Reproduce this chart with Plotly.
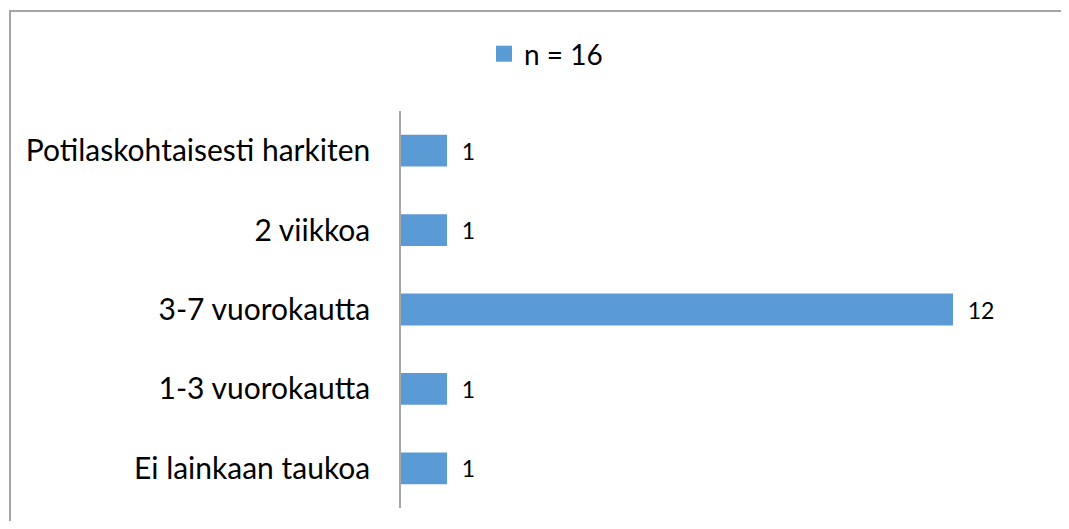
import plotly.graph_objects as go

categories = ["Potilaskohtaisesti harkiten", "2 viikkoa", "3-7 vuorokautta",
              "1-3 vuorokautta", "Ei lainkaan taukoa"]
values = [1, 1, 12, 1, 1]
series_name = "n = 16"
bar_color = "#5B9BD5"

# The page body adds an 8px margin around the figure; keep it from overflowing.
OFF = 8
W, H = 1069 - 2 * OFF, 529 - 2 * OFF
L, T = 401 - OFF, 111 - OFF
plot_right, plot_bottom = 1045 - OFF, 508 - OFF
R, B = W - plot_right, H - plot_bottom
pw, ph = plot_right - L, plot_bottom - T

def px_x(p):
    return (p - OFF - L) / pw

def px_y(p):
    return (plot_bottom - (p - OFF)) / ph

fig = go.Figure()
fig.add_trace(go.Bar(
    y=categories, x=values, orientation="h", name=series_name,
    marker=dict(color=bar_color, line=dict(width=0)),
    texttemplate="\u00a0\u00a0%{x}", textposition="outside",
    constraintext="none",
    textfont=dict(family="Lato", size=23, color="#000000"),
    cliponaxis=False, showlegend=False,
))
# legend entry for the series
fig.add_trace(go.Scatter(
    x=[None], y=[None], mode="markers", name=series_name,
    marker=dict(symbol="square", size=17, color=bar_color),
    showlegend=True,
))

fig.update_layout(
    width=W, height=H,
    margin=dict(l=L, r=R, t=T, b=B, autoexpand=False),
    paper_bgcolor="white", plot_bgcolor="white",
    font=dict(family="Lato", size=30, color="#000000"),
    bargap=0.6,
    showlegend=True,
    legend=dict(orientation="h", x=px_x(546), xanchor="center",
                y=px_y(54), yanchor="middle",
                font=dict(family="Lato", size=28, color="#000000"),
                bgcolor="rgba(0,0,0,0)", itemwidth=30),
    xaxis=dict(range=[0, 14], visible=False, showgrid=False, zeroline=False),
    yaxis=dict(categoryorder="array", categoryarray=categories[::-1],
               showline=True, linecolor="#A6A6A6", linewidth=1.5,
               ticks="", ticklabelstandoff=23, showgrid=False, zeroline=False),
    shapes=[dict(type="rect", xref="paper", yref="paper",
                 x0=px_x(10), x1=3,
                 y0=-3, y1=px_y(11),
                 line=dict(color="#A6A6A6", width=2), fillcolor="rgba(0,0,0,0)",
                 layer="below")],
)

fig.write_html("out.html")
